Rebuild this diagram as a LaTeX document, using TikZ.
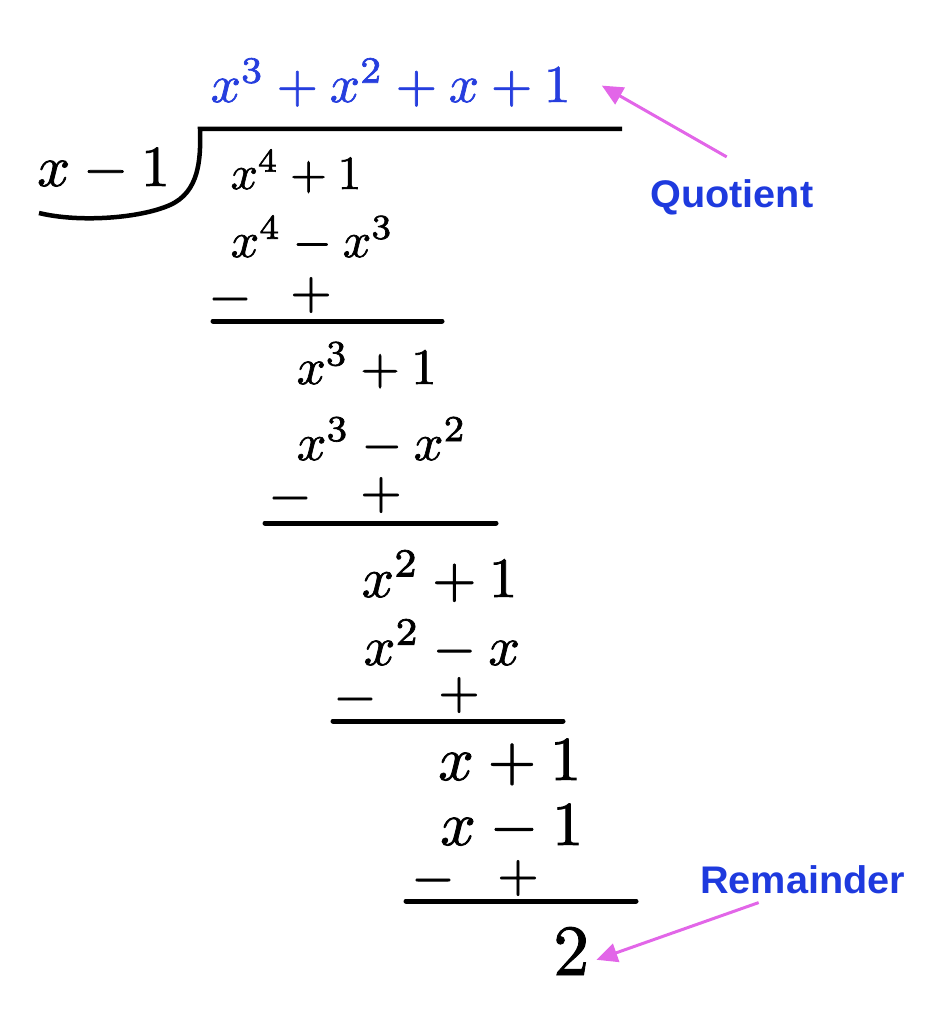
\documentclass[tikz,border=0pt]{standalone}
\usepackage{graphicx}
\usepackage[no-math]{fontspec}
\newfontfamily\labfont{Liberation Sans}
\usetikzlibrary{arrows.meta}
\definecolor{qblue}{RGB}{38,62,222}
\definecolor{lblue}{RGB}{30,58,222}
\definecolor{arrowpink}{RGB}{226,102,232}
\newcommand\fsz[1]{\fontsize{#1}{#1}\selectfont}
\newcommand\mscaled[2]{\scalebox{#1}{\special{pdf:literal direct 2 Tr 0.13 w}$#2$\special{pdf:literal direct 0 Tr}}}
\begin{document}
\begin{tikzpicture}[x=1pt,y=-1pt,
  poly/.style={inner sep=0pt,anchor=base west,font=\fsz{10}},
  sgn/.style={inner sep=0pt,anchor=center,font=\fsz{10}},
  rulebar/.style={line width=5pt,line cap=round},
  lab/.style={inner sep=0pt,anchor=base west,text=lblue,font=\labfont\bfseries\fsz{38.5}},
  callout/.style={draw=arrowpink,line width=3pt,-{Triangle[length=21pt,width=19pt]}}]
\useasboundingbox (0,0) rectangle (941,1024);
% quotient and divisor
\node[poly,text=qblue] (q) at (210.5,102) {\mscaled{5.31}{x^3+x^2+x+1}};
\node[poly] (d) at (37,186) {\mscaled{5.79}{x-1}};
\draw[line width=4.5pt] (622,129) -- (200,129)
  .. controls (201,160) and (199,192) .. (170,205)
  .. controls (141,218) and (80,223) .. (39,213);
% step 1
\node[poly] (r1) at (230.5,189) {\mscaled{4.77}{x^4+1}};
\node[poly] (s1) at (230.5,257) {\mscaled{5.0}{x^4-x^3}};
\node[sgn] (m1) at (230,299) {\mscaled{5.6}{-}};
\node[sgn] (p1) at (311,295) {\mscaled{5.3}{+}};
\draw[rulebar] (213,321) -- (442,321);
% step 2
\node[poly] (r2) at (296.5,384) {\mscaled{5.11}{x^3+1}};
\node[poly] (s2) at (296.5,460) {\mscaled{5.22}{x^3-x^2}};
\node[sgn] (m2) at (290,498) {\mscaled{5.6}{-}};
\node[sgn] (p2) at (381,495) {\mscaled{5.3}{+}};
\draw[rulebar] (265,523) -- (496,523);
% step 3
\node[poly] (r3) at (361.5,597) {\mscaled{5.68}{x^2+1}};
\node[poly] (s3) at (363.5,665) {\mscaled{5.56}{x^2-x}};
\node[sgn] (m3) at (355,699) {\mscaled{5.6}{-}};
\node[sgn] (p3) at (459,695) {\mscaled{5.3}{+}};
\draw[rulebar] (333,721) -- (563,721);
% step 4
\node[poly] (r4) at (438,780) {\mscaled{6.24}{x+1}};
\node[poly] (s4) at (440,845) {\mscaled{6.24}{x-1}};
\node[sgn] (m4) at (433,880) {\mscaled{5.6}{-}};
\node[sgn] (p4) at (518,878) {\mscaled{5.3}{+}};
\draw[rulebar] (406,901) -- (636,901);
% remainder
\node[poly] (rem) at (553,975) {\mscaled{7.2}{2}};
% labels
\node[lab] (qlab) at (650,208) {\scalebox{1.03}[1]{Quotient}};
\node[lab] (rlab) at (700,893) {\scalebox{1.03}[1]{Remainder}};
\draw[callout] ([shift={(-5,-23)}]qlab.north) -- ([shift={(31,3)}]q.east);
\draw[callout] ([shift={(-44,9)}]rlab.south) -- ([shift={(7,8)}]rem.east);
\end{tikzpicture}
\end{document}
